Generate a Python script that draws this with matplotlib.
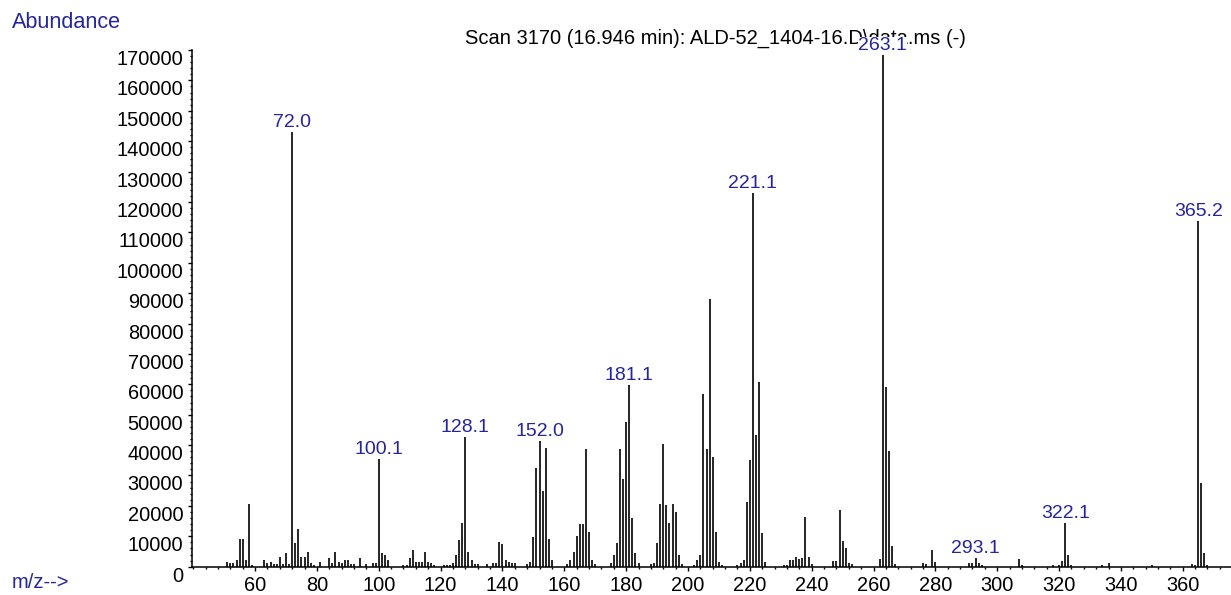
import matplotlib
matplotlib.use("Agg")
import matplotlib.pyplot as plt
from matplotlib.ticker import FixedLocator
from matplotlib.transforms import ScaledTranslation

# m/z of each ion and its abundance
mz = [51, 52, 53, 54, 55, 56, 57, 58, 59,
      63, 64, 65, 66, 67, 68, 69, 70, 71, 72, 73, 74, 75, 76, 77, 78, 79,
      81, 84, 85, 86, 87, 88, 89, 90, 91, 92, 94, 96, 98, 99, 100, 101, 102, 103,
      108, 109, 110, 111, 112, 113, 114, 115, 116, 117, 118, 121, 122, 123, 124,
      125, 126, 127, 128, 129, 130, 131, 132,
      135, 137, 138, 139, 140, 141, 142, 143, 144,
      148, 149, 150, 151, 152, 153, 154, 155, 156,
      161, 162, 163, 164, 165, 166, 167, 168, 169, 170,
      175, 176, 177, 178, 179, 180, 181, 182, 183, 184,
      188, 189, 190, 191, 192, 193, 194, 195, 196, 197, 198,
      202, 203, 204, 205, 206, 207, 208, 209, 210, 211,
      216, 217, 218, 219, 220, 221, 222, 223, 224, 225,
      231, 232, 233, 234, 235, 236, 237, 238, 239, 240,
      247, 248, 249, 250, 251, 252, 253,
      262, 263, 264, 265, 266, 267,
      276, 277, 279, 280,
      291, 292, 293, 294, 295,
      307, 308,
      318, 320, 321, 322, 323, 324,
      334, 336, 350,
      363, 364, 365, 366, 367, 368]
abundance = [1650, 1100, 1100, 2200, 9000, 9000, 2200, 20600, 500,
             2200, 1100, 1650, 900, 900, 3300, 900, 4400, 900, 143100, 7900, 12300, 3300, 3300, 4950, 1100, 550,
             1650, 2750, 1100, 4950, 1650, 1100, 2200, 2200, 900, 900, 2750, 900, 1100, 1100, 35400, 4400, 3800, 2200,
             550, 550, 2750, 5500, 1650, 1650, 1650, 4950, 1650, 1100, 550, 550, 550, 550, 1300,
             3850, 8700, 14300, 42700, 4950, 2200, 770, 770,
             770, 1300, 1300, 8000, 7500, 2200, 1650, 1300, 1300,
             770, 1650, 9700, 32400, 41250, 25000, 39000, 9000, 2200,
             770, 2200, 4950, 10200, 14000, 14000, 38700, 11550, 2200, 770,
             1100, 3850, 7700, 38700, 28800, 47600, 59700, 15950, 4400, 1100,
             900, 1100, 7900, 20700, 40400, 20200, 14300, 20700, 18150, 3850, 770,
             550, 2200, 3850, 56650, 38700, 88200, 36200, 11250, 1650, 660,
             660, 1200, 2300, 21150, 35000, 122900, 43200, 60700, 11200, 1650,
             550, 550, 2200, 2200, 3300, 2400, 2750, 16500, 3300, 770,
             1870, 1870, 18500, 8580, 6050, 1100, 770,
             2420, 168200, 59200, 38200, 6930, 770,
             1100, 770, 5500, 1650,
             1100, 1100, 2750, 1100, 550,
             2420, 550,
             550, 550, 1870, 14300, 3850, 550,
             550, 1100, 550,
             900, 550, 113850, 27500, 4400, 550]

label_mz = [72, 100, 128, 152, 181, 221, 263, 293, 322, 365]
label_text = ["72.0", "100.1", "128.1", "152.0", "181.1",
              "221.1", "263.1", "293.1", "322.1", "365.2"]

x_ticks = list(range(60, 361, 20))
x_minor = list(range(40, 376, 4))
y_ticks = list(range(0, 170001, 10000))
y_minor = list(range(0, 170001, 2000))

title = "Scan 3170 (16.946 min): ALD-52_1404-16.D\\data.ms (-)"
blue = "#25259c"

plt.rcParams['font.family'] = ['Liberation Sans', 'DejaVu Sans']

fig = plt.figure(figsize=(12.31, 5.95), dpi=100)
ax = fig.add_axes([0.1557, 0.0476, 0.8443, 0.8684])
ax.patch.set_visible(False)

ax.vlines(mz, 0, abundance, color="black", linewidth=1.2)

ax.set_xlim(39.5, 375.6)
ax.set_ylim(0, 170000)

ax.xaxis.set_major_locator(FixedLocator(x_ticks))
ax.xaxis.set_minor_locator(FixedLocator(x_minor))
ax.yaxis.set_major_locator(FixedLocator(y_ticks))
ax.yaxis.set_minor_locator(FixedLocator(y_minor))
ax.set_yticklabels([str(v) for v in y_ticks])

for side in ["top", "right"]:
    ax.spines[side].set_visible(False)
for side in ["left", "bottom"]:
    ax.spines[side].set_linewidth(1.1)

ax.tick_params(axis="both", which="major", direction="out", length=3, width=1,
               labelsize=14.4, colors="black")
ax.tick_params(axis="both", which="minor", direction="out", length=1.5, width=1)
ax.tick_params(axis="x", which="major", pad=4)
ax.tick_params(axis="y", which="major", pad=3)

# y labels in the original sit a little below their ticks
shift = ScaledTranslation(0, -0.075, fig.dpi_scale_trans)
for tick in ax.yaxis.get_major_ticks():
    tick.label1.set_transform(tick.label1.get_transform() + shift)

lookup = dict(zip(mz, abundance))
for m, txt in zip(label_mz, label_text):
    ax.annotate(txt, (m, lookup[m]), xytext=(0, 5), textcoords="offset pixels",
                ha="center", va="baseline", color=blue, fontsize=14,
                annotation_clip=False, zorder=5,
                bbox=dict(facecolor="white", edgecolor="none", pad=0))

fig.text(715 / 1231, 1 - 38 / 595, title, ha="center", va="center",
         fontsize=14.5, color="black", zorder=-1)
fig.text(12 / 1231, 1 - 22 / 595, "Abundance", ha="left", va="center",
         fontsize=15.6, color=blue)
fig.text(12 / 1231, 1 - 582 / 595, "m/z-->", ha="left", va="center",
         fontsize=14.5, color=blue)

fig.savefig("out.png", dpi=100)
